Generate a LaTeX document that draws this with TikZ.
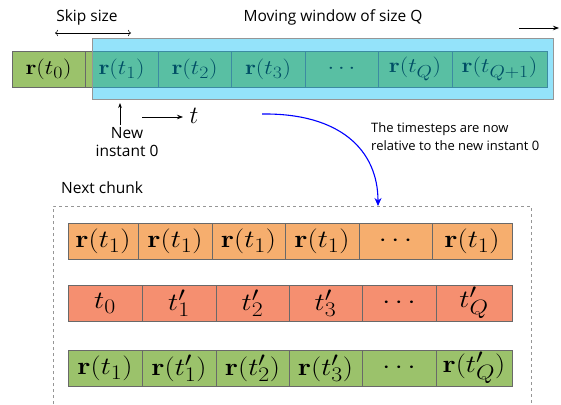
\documentclass[tikz,border=0pt]{standalone}
\usepackage[no-math]{fontspec}
\setmainfont{Open Sans}
\usetikzlibrary{arrows.meta}
\DeclareMathSizes{20.74}{20.74}{17.28}{14.4}
\DeclareMathSizes{24.88}{24.88}{20.74}{17.28}
\definecolor{cgreen}{RGB}{155,194,107}
\definecolor{corange}{RGB}{246,174,110}
\definecolor{cred}{RGB}{245,143,112}
\definecolor{cwin}{RGB}{0,188,242}
\definecolor{cbord}{RGB}{105,105,105}
\definecolor{cwinb}{RGB}{150,150,150}
\newcommand{\mth}[1]{\scalebox{1.15}[1]{$#1$}}
\tikzset{
  cell/.style={draw=cbord, line width=0.7pt, minimum height=36pt, inner sep=0pt,
    font=\fontsize{20.74}{21}\selectfont},
  bcell/.style={cell, font=\fontsize{24.88}{25}\selectfont},
  lbl/.style={font=\fontsize{15.5}{18}\selectfont, inner sep=0pt},
  note/.style={font=\fontsize{13}{18}\selectfont, inner sep=0pt, align=left},
  arr/.style={line width=0.8pt},
}
\begin{document}
\begin{tikzpicture}[x=1pt,y=-1pt]
\useasboundingbox (0,0) rectangle (561,404);
% top row
\node[cell, fill=cgreen, minimum width=73pt] (c0) at (48.5,69) {\mth{\mathbf{r}(t_0)}};
\node[cell, fill=cgreen, minimum width=73pt] (c1) at (121.5,69) {\mth{\mathbf{r}(t_1)}};
\node[cell, fill=cgreen, minimum width=73pt] (c2) at (194.5,69) {\mth{\mathbf{r}(t_2)}};
\node[cell, fill=cgreen, minimum width=74pt] (c3) at (268,69) {\mth{\mathbf{r}(t_3)}};
\node[cell, fill=cgreen, minimum width=73pt] (c4) at (341.5,69) {\mth{\cdots}};
\node[cell, fill=cgreen, minimum width=74pt] (c5) at (415,69) {\mth{\mathbf{r}(t_Q)}};
\node[cell, fill=cgreen, minimum width=95pt] (c6) at (499.5,69) {\mth{\mathbf{r}(t_{Q+1})}};
% moving window
\node[draw=cwinb, line width=0.9pt, fill=cwin, fill opacity=0.42, minimum width=461pt, minimum height=61pt, inner sep=0pt] (win) at (322.5,68.5) {};
% labels top
\node[lbl] (skip) at (87,17) {Skip size};
\coordinate (s1) at (55,33);
\coordinate (s2) at (131,33);
\draw[arr, line width=0.6pt, {To}-{To}] (s1) -- (s2);
\node[lbl] (mov) at (333,17) {Moving window of size Q};
\coordinate (m1) at (519,28);
\coordinate (m2) at (559,28);
\draw[arr, -{Stealth[length=6pt]}] (m1) -- (m2);
% new instant
\node[lbl, align=center] (new) at (127,142) {New\\instant 0};
\coordinate (u1) at (120,125);
\coordinate (u2) at (120,103);
\draw[arr, -{Stealth[length=5pt]}] (u1) -- (u2);
\coordinate (ta) at (142,117);
\node[inner sep=0pt, font=\fontsize{24.88}{25}\selectfont] (tl) at (194,116) {$t$};
\draw[arr, -{Stealth[length=6pt]}] (ta) -- (183,117);
% note
\node[note, anchor=west] (nt) at (371,137) {The timesteps are now\\relative to the new instant 0};
% next chunk
\node[lbl, anchor=west] (nc) at (61,188) {Next chunk};
\draw[cwinb, dashed, line width=0.7pt] (53,404) -- (53,206) -- (531,206) -- (531,404);
\coordinate (b1) at (262,114);
\coordinate (b2) at (378,206);
\draw[blue, line width=1.1pt, -{Stealth[length=8pt,width=7pt]}] (b1) .. controls (340,113) and (378,150) .. (b2);
% orange row
\node[bcell, fill=corange, minimum width=70pt] (a1) at (103,241) {\mth{\mathbf{r}(t_1)}};
\node[bcell, fill=corange, minimum width=74pt] (a2) at (175,241) {\mth{\mathbf{r}(t_1)}};
\node[bcell, fill=corange, minimum width=73pt] (a3) at (248.5,241) {\mth{\mathbf{r}(t_1)}};
\node[bcell, fill=corange, minimum width=74pt] (a4) at (322,241) {\mth{\mathbf{r}(t_1)}};
\node[bcell, fill=corange, minimum width=73pt] (a5) at (395.5,241) {\mth{\cdots}};
\node[bcell, fill=corange, minimum width=80pt] (a6) at (472,241) {\mth{\mathbf{r}(t_1)}};
% red row
\node[bcell, fill=cred, minimum width=74pt] (d1) at (105,303) {\mth{t_0}};
\node[bcell, fill=cred, minimum width=74pt] (d2) at (179,303) {\mth{t'_1}};
\node[bcell, fill=cred, minimum width=73pt] (d3) at (252.5,303) {\mth{t'_2}};
\node[bcell, fill=cred, minimum width=73pt] (d4) at (325.5,303) {\mth{t'_3}};
\node[bcell, fill=cred, minimum width=74pt] (d5) at (399,303) {\mth{\cdots}};
\node[bcell, fill=cred, minimum width=76pt] (d6) at (474,303) {\mth{t'_Q}};
% green row
\node[bcell, fill=cgreen, minimum width=74pt] (g1) at (105,368) {\mth{\mathbf{r}(t_1)}};
\node[bcell, fill=cgreen, minimum width=74pt] (g2) at (179,368) {\mth{\mathbf{r}(t'_1)}};
\node[bcell, fill=cgreen, minimum width=73pt] (g3) at (252.5,368) {\mth{\mathbf{r}(t'_2)}};
\node[bcell, fill=cgreen, minimum width=73pt] (g4) at (325.5,368) {\mth{\mathbf{r}(t'_3)}};
\node[bcell, fill=cgreen, minimum width=74pt] (g5) at (399,368) {\mth{\cdots}};
\node[bcell, fill=cgreen, minimum width=76pt] (g6) at (474,368) {\mth{\mathbf{r}(t'_Q)}};
\end{tikzpicture}
\end{document}
